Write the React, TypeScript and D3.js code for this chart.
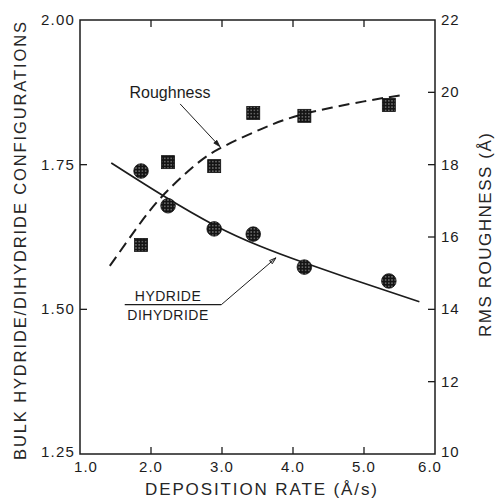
import React from "react";
import * as d3 from "d3";

// ---- data ----
const depositionRate = [1.86, 2.24, 2.89, 3.44, 4.16, 5.35];
const hydrideRatio = [1.739, 1.679, 1.639, 1.63, 1.573, 1.549];
const rmsRoughness = [15.78, 18.07, 17.96, 19.43, 19.35, 19.65];

const hydrideFitX = [1.44, 2.15, 2.9, 3.54, 4.17, 5.0, 5.78];
const hydrideFitY = [1.753, 1.698, 1.645, 1.609, 1.58, 1.545, 1.513];
const roughFitX = [1.42, 1.8, 2.155, 2.6, 2.97, 3.535, 4.155, 5.0, 5.56];
const roughFitY = [15.2, 16.25, 17.12, 17.95, 18.45, 18.97, 19.4, 19.75, 19.93];

const xTicks = [1, 2, 3, 4, 5, 6];
const xTickLabels = ["1.0", "2.0", "3.0", "4.0", "5.0", "6.0"];
const yLeftTicks = [1.25, 1.5, 1.75, 2.0];
const yLeftLabels = ["1.25", "1.50", "1.75", "2.00"];
const yRightTicks = [10, 12, 14, 16, 18, 20, 22];
const yRightLabels = ["10", "12", "14", "16", "18", "20", "22"];

const W = 497, H = 503;
const L = 80, R = 435, T = 20, B = 454;

export default function App() {
  const x = d3.scaleLinear().domain([1, 6]).range([L, R]);
  const yL = d3.scaleLinear().domain([1.25, 2.0]).range([B, T]);
  const yR = d3.scaleLinear().domain([10, 22]).range([B, T]);

  const hydLine = d3
    .line<number>()
    .x((_, i) => x(hydrideFitX[i]))
    .y((d) => yL(d))
    .curve(d3.curveNatural)(hydrideFitY) as string;
  const roughLine = d3
    .line<number>()
    .x((_, i) => x(roughFitX[i]))
    .y((d) => yR(d))
    .curve(d3.curveNatural)(roughFitY) as string;

  const ink = "#1c1c1c";
  const font = "'Liberation Sans', Arial, sans-serif";
  const tk = 7;

  // annotation anchors in data coordinates
  const rArrowFrom = [x(2.41), yR(19.68)];
  const rArrowTo = [x(2.97), yR(18.5)];
  const hLabelX = x(2.24);
  const hBar = [x(1.63), x(2.99)];
  const hBarY = yL(1.508);
  const hArrowTo = [x(3.76), yL(1.589)];

  const arrowHead = (from: number[], to: number[], size = 7) => {
    const a = Math.atan2(to[1] - from[1], to[0] - from[0]);
    const p1 = [to[0] - size * Math.cos(a - 0.3), to[1] - size * Math.sin(a - 0.3)];
    const p2 = [to[0] - size * Math.cos(a + 0.3), to[1] - size * Math.sin(a + 0.3)];
    return `M${p1[0]},${p1[1]}L${to[0]},${to[1]}L${p2[0]},${p2[1]}Z`;
  };

  return (
    <svg
      width={W}
      height={H}
      style={{ position: "absolute", left: 0, top: 0, background: "#fff" }}
      fontFamily={font}
    >
      <defs>
        <pattern id="stip" width="3.2" height="3.2" patternUnits="userSpaceOnUse">
          <rect width="3.2" height="3.2" fill="#141414" />
          <circle cx="1.6" cy="1.6" r="0.6" fill="#dcdcdc" />
        </pattern>
      </defs>

      {/* frame */}
      <rect x={L} y={T} width={R - L} height={B - T} fill="none" stroke={ink} strokeWidth={1.5} />

      {/* x ticks (top & bottom, inward) */}
      {xTicks.slice(1, -1).map((t) => (
        <g key={"xt" + t}>
          <line x1={x(t)} x2={x(t)} y1={B} y2={B - tk} stroke={ink} strokeWidth={1.3} />
          <line x1={x(t)} x2={x(t)} y1={T} y2={T + tk} stroke={ink} strokeWidth={1.3} />
        </g>
      ))}
      {xTicks.map((t, i) => {
        let cx = x(t);
        if (i === 0) cx += 6;
        if (i === xTicks.length - 1) cx -= 5;
        return (
          <text
            key={"xl" + t}
            x={cx}
            y={472}
            textAnchor="middle"
            fontSize={15}
            letterSpacing={1}
            fill={ink}
          >
            {xTickLabels[i]}
          </text>
        );
      })}

      {/* left ticks */}
      {yLeftTicks.slice(1, -1).map((t) => (
        <line key={"ylt" + t} x1={L} x2={L + tk} y1={yL(t)} y2={yL(t)} stroke={ink} strokeWidth={1.3} />
      ))}
      {yLeftTicks.map((t, i) => (
        <text
          key={"yll" + t}
          x={75}
          y={yL(t) + (i === 0 ? -1 : 1)}
          textAnchor="end"
          dominantBaseline="middle"
          fontSize={15}
          letterSpacing={1.2}
          fill={ink}
        >
          {yLeftLabels[i]}
        </text>
      ))}

      {/* right ticks */}
      {yRightTicks.slice(1, -1).map((t) => (
        <line key={"yrt" + t} x1={R} x2={R - tk} y1={yR(t)} y2={yR(t)} stroke={ink} strokeWidth={1.3} />
      ))}
      {yRightTicks.map((t, i) => (
        <text
          key={"yrl" + t}
          x={441}
          y={yR(t) + (i === 0 ? -1 : 1)}
          textAnchor="start"
          dominantBaseline="middle"
          fontSize={15}
          letterSpacing={0.8}
          fill={ink}
        >
          {yRightLabels[i]}
        </text>
      ))}

      {/* axis titles */}
      <text
        transform="translate(26,241) rotate(-90)"
        textAnchor="middle"
        fontSize={16.5}
        textLength={438}
        lengthAdjust="spacing"
        fill="#262626"
      >
        BULK HYDRIDE/DIHYDRIDE CONFIGURATIONS
      </text>
      <text
        transform="translate(491,235) rotate(-90)"
        textAnchor="middle"
        fontSize={17}
        textLength={204}
        lengthAdjust="spacing"
        fill="#262626"
      >
        RMS ROUGHNESS (Å)
      </text>
      <text
        x={261}
        y={495}
        textAnchor="middle"
        fontSize={17}
        textLength={232}
        lengthAdjust="spacing"
        fill="#262626"
      >
        DEPOSITION RATE (Å/s)
      </text>

      {/* fitted curves */}
      <path d={hydLine} fill="none" stroke={ink} strokeWidth={1.7} />
      <path d={roughLine} fill="none" stroke={ink} strokeWidth={2} strokeDasharray="11,6" />

      {/* markers */}
      {depositionRate.map((r, i) => (
        <circle
          key={"c" + i}
          cx={x(r)}
          cy={yL(hydrideRatio[i])}
          r={7.3}
          fill="url(#stip)"
          stroke="#111"
          strokeWidth={0.8}
        />
      ))}
      {depositionRate.map((r, i) => (
        <rect
          key={"s" + i}
          x={x(r) - 6.5}
          y={yR(rmsRoughness[i]) - 6.5}
          width={13}
          height={13}
          fill="url(#stip)"
          stroke="#111"
          strokeWidth={0.8}
        />
      ))}

      {/* annotations */}
      <text x={170} y={98} textAnchor="middle" fontSize={16} fill={ink}>
        Roughness
      </text>
      <line
        x1={rArrowFrom[0]}
        y1={rArrowFrom[1]}
        x2={rArrowTo[0]}
        y2={rArrowTo[1]}
        stroke={ink}
        strokeWidth={1}
      />
      <path d={arrowHead(rArrowFrom, rArrowTo)} fill={ink} stroke={ink} strokeWidth={0.8} />

      <text x={hLabelX} y={hBarY - 4} textAnchor="middle" fontSize={14} letterSpacing={0.5} fill={ink}>
        HYDRIDE
      </text>
      <line x1={hBar[0]} x2={hBar[1]} y1={hBarY} y2={hBarY} stroke={ink} strokeWidth={1.2} />
      <text x={hLabelX} y={hBarY + 15} textAnchor="middle" fontSize={14} letterSpacing={0.5} fill={ink}>
        DIHYDRIDE
      </text>
      <line
        x1={hBar[1]}
        y1={hBarY}
        x2={hArrowTo[0]}
        y2={hArrowTo[1]}
        stroke={ink}
        strokeWidth={1}
      />
      <path d={arrowHead([hBar[1], hBarY], hArrowTo)} fill="none" stroke={ink} strokeWidth={1} />
    </svg>
  );
}
